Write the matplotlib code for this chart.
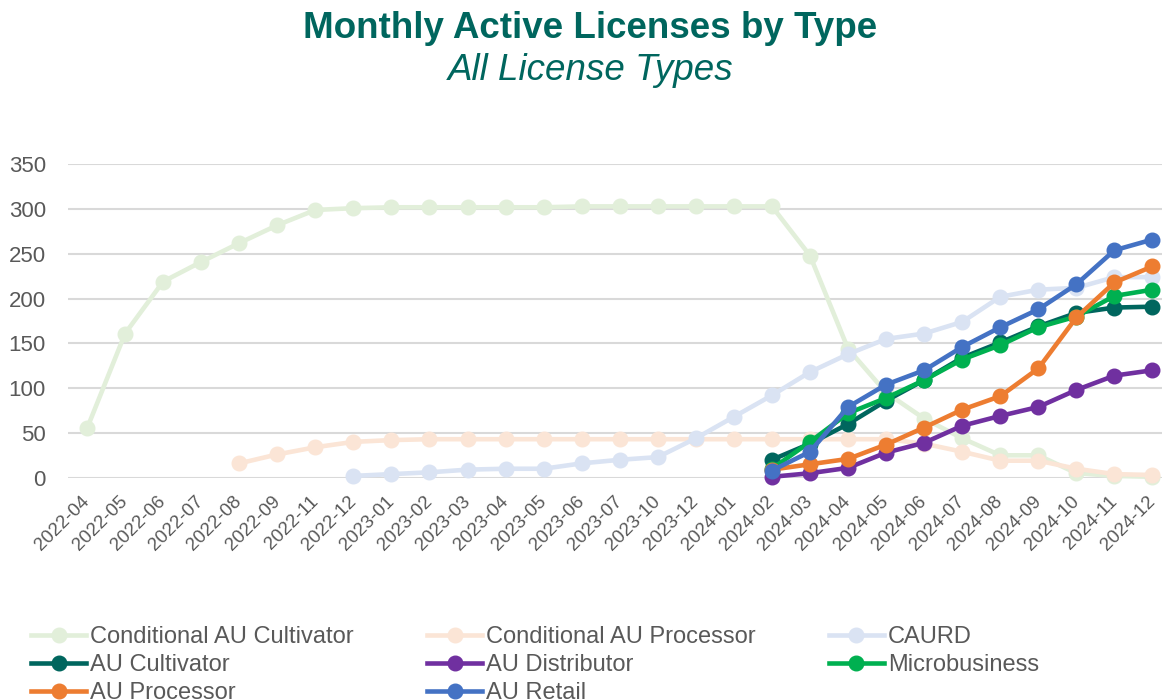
import numpy as np
import matplotlib
matplotlib.use('Agg')
import matplotlib.pyplot as plt

plt.rcParams['font.family'] = ['Liberation Sans', 'DejaVu Sans']

months = ['2022-04', '2022-05', '2022-06', '2022-07', '2022-08', '2022-09', '2022-11',
          '2022-12', '2023-01', '2023-02', '2023-03', '2023-04', '2023-05', '2023-06',
          '2023-07', '2023-10', '2023-12', '2024-01', '2024-02', '2024-03', '2024-04',
          '2024-05', '2024-06', '2024-07', '2024-08', '2024-09', '2024-10', '2024-11',
          '2024-12']

N = None
cond_cultivator = [55, 161, 219, 241, 262, 282, 299, 301, 302, 302, 302, 302, 302, 303,
                   303, 303, 303, 303, 303, 248, 144, 95, 66, 44, 25, 25, 5, 2, 1]
cond_processor = [N, N, N, N, 16, 26, 34, 40, 42, 43, 43, 43, 43, 43,
                  43, 43, 43, 43, 43, 43, 43, 43, 38, 29, 19, 19, 10, 4, 3]
caurd = [N, N, N, N, N, N, N, 2, 4, 6, 9, 10, 10, 16,
         20, 23, 44, 68, 92, 118, 138, 155, 161, 174, 202, 210, 212, 224, 224]
au_cultivator = [N] * 18 + [20, 38, 60, 86, 109, 134, 151, 169, 184, 190, 191]
au_distributor = [N] * 18 + [1, 5, 11, 28, 39, 58, 69, 79, 98, 114, 120]
microbusiness = [N] * 18 + [10, 40, 72, 89, 109, 132, 148, 168, 180, 203, 210]
au_processor = [N] * 18 + [9, 15, 21, 37, 56, 76, 91, 122, 179, 218, 236]
au_retail = [N] * 18 + [8, 29, 79, 104, 120, 146, 168, 188, 216, 254, 266]

series = [
    ('Conditional AU Cultivator', cond_cultivator, '#E2EFDA'),
    ('Conditional AU Processor', cond_processor, '#FBE5D6'),
    ('CAURD', caurd, '#DAE3F3'),
    ('AU Cultivator', au_cultivator, '#00665E'),
    ('AU Distributor', au_distributor, '#7030A0'),
    ('Microbusiness', microbusiness, '#00B050'),
    ('AU Processor', au_processor, '#ED7D31'),
    ('AU Retail', au_retail, '#4472C4'),
]

fig = plt.figure(figsize=(11.62, 7.0), dpi=100)
ax = fig.add_axes([68 / 1162, 1 - 477.7 / 700, 1 - 68 / 1162, (477.7 - 164.3) / 700])

x = np.arange(len(months))
handles = []
for i, (name, vals, col) in enumerate(series):
    y = np.array([np.nan if v is None else v for v in vals], dtype=float)
    h, = ax.plot(x, y, color=col, lw=3.3, marker='o', ms=10.5, label=name,
                 zorder=3 + i, clip_on=False)
    handles.append(h)

ax.set_ylim(0, 350)
ax.set_yticks(range(0, 351, 50))
ax.set_xlim(-0.5, 28.25)
ax.set_xticks(x)
ax.set_xticklabels(months, rotation=45, ha='right', va='center', rotation_mode='anchor')
ax.grid(axis='y', color='#D9D9D9', lw=1.5, zorder=0)
ax.set_axisbelow(True)
for s in ax.spines.values():
    s.set_visible(False)
ax.tick_params(axis='both', length=0, colors='#595959')
ax.tick_params(axis='y', labelsize=16, pad=16)
ax.tick_params(axis='x', labelsize=13.5, pad=15)

fig.text(0.508, 1 - 29 / 700, 'Monthly Active Licenses by Type', ha='center', va='center',
         fontsize=26.5, fontweight='bold', color='#00665E')
fig.text(0.508, 1 - 71 / 700, 'All License Types', ha='center', va='center',
         fontsize=26.5, fontstyle='italic', color='#00665E')

# legend reads row by row like the original, so feed columns in that order
order = [0, 3, 6, 1, 4, 7, 2, 5]
fig.legend([handles[i] for i in order], [series[i][0] for i in order],
           loc='upper left', bbox_to_anchor=(31 / 1162, 1 - 626 / 700), ncol=3,
           frameon=False, fontsize=17, handlelength=2.35, handletextpad=0.15,
           columnspacing=3.1, labelspacing=0.26, borderpad=0, borderaxespad=0,
           labelcolor='#595959')

fig.savefig('out.png', dpi=100)
